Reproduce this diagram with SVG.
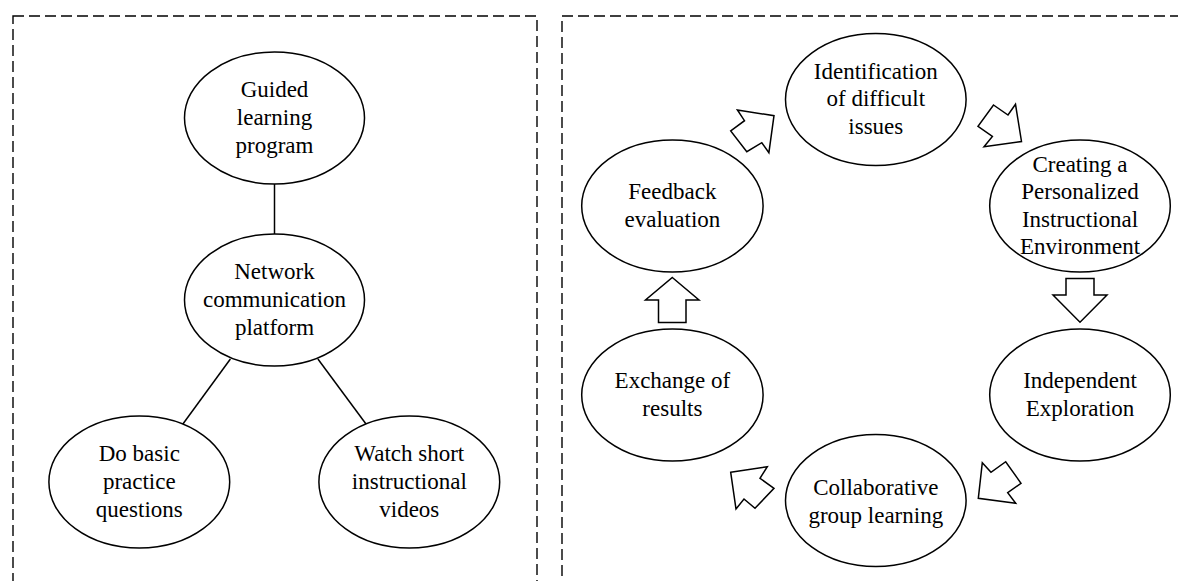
<svg xmlns="http://www.w3.org/2000/svg" width="1178" height="581" viewBox="0 0 1178 581">
  <style>
    .frame { fill: none; stroke: #000; stroke-width: 1.4; stroke-dasharray: 11 5; }
    .node ellipse { fill: #fff; stroke: #000; stroke-width: 1.5; }
    .node text { font-family: "Liberation Serif", "Times New Roman", serif; font-size: 23px; fill: #000; text-anchor: middle; }
    .link { stroke: #000; stroke-width: 1.5; fill: none; }
    .flow { fill: #fff; stroke: #000; stroke-width: 1.5; stroke-linejoin: miter; }
  </style>

  <rect width="1178" height="581" fill="#fff"/>

  <!-- dashed frames for the two panels -->
  <rect class="frame" x="13" y="16" width="524" height="600"/>
  <rect class="frame" x="562" y="16" width="640" height="600"/>

  <!-- left panel: tree connectors -->
  <g id="tree-links">
    <line class="link" x1="274.5" y1="184" x2="274.5" y2="234"/>
    <line class="link" x1="230.4" y1="359" x2="182.9" y2="424"/>
    <line class="link" x1="317.9" y1="359" x2="366" y2="424"/>
  </g>

  <!-- right panel: cycle arrows -->
  <g id="cycle-arrows">
    <polygon class="flow" points="737.4,110 774,115.7 768.9,152.7 761.8,142.7 746.8,151.7 730.7,131 744.5,120.7"/>
    <polygon class="flow" points="993.5,105 1008,115 1015.5,104.3 1021.5,141.5 984,146.7 992.4,136.4 978,126.3"/>
    <polygon class="flow" points="1066,278.5 1094,278.5 1094,295 1107,295 1080,322.3 1053,295 1066,295"/>
    <polygon class="flow" points="982.3,462.7 991,472.3 1005.7,461.7 1021,483.3 1007.7,492.7 1015.7,503.3 978.3,498.3"/>
    <polygon class="flow" points="730.7,472.3 767.3,466.7 760,478.3 774,488.3 755,508.3 744,499 736,509"/>
    <polygon class="flow" points="672.3,277.5 699,300 686,300 686,322.5 658.5,322.5 658.5,300 645.5,300"/>
  </g>

  <!-- left panel nodes -->
  <g id="guided" class="node">
    <ellipse cx="274.5" cy="118" rx="90" ry="66"/>
    <text x="274.5" y="97.3">Guided</text>
    <text x="274.5" y="125">learning</text>
    <text x="274.5" y="152.6">program</text>
  </g>
  <g id="network" class="node">
    <ellipse cx="274.5" cy="300" rx="90" ry="66"/>
    <text x="274.5" y="279.3">Network</text>
    <text x="274.5" y="307">communication</text>
    <text x="274.5" y="334.6">platform</text>
  </g>
  <g id="practice" class="node">
    <ellipse cx="139.3" cy="482" rx="90.4" ry="66"/>
    <text x="139.3" y="461.3">Do basic</text>
    <text x="139.3" y="489">practice</text>
    <text x="139.3" y="516.6">questions</text>
  </g>
  <g id="videos" class="node">
    <ellipse cx="409.3" cy="482" rx="90.4" ry="66"/>
    <text x="409.3" y="461.3">Watch short</text>
    <text x="409.3" y="489">instructional</text>
    <text x="409.3" y="516.6">videos</text>
  </g>

  <!-- right panel nodes -->
  <g id="identification" class="node">
    <ellipse cx="875.8" cy="99.5" rx="90.3" ry="66"/>
    <text x="875.8" y="78.6">Identification</text>
    <text x="875.8" y="106.2">of difficult</text>
    <text x="875.8" y="133.8">issues</text>
  </g>
  <g id="feedback" class="node">
    <ellipse cx="672.4" cy="206" rx="90.7" ry="66"/>
    <text x="672.4" y="199.2">Feedback</text>
    <text x="672.4" y="226.8">evaluation</text>
  </g>
  <g id="creating" class="node">
    <ellipse cx="1080" cy="206" rx="90.3" ry="66"/>
    <text x="1080" y="171.6">Creating a</text>
    <text x="1080" y="199.2">Personalized</text>
    <text x="1080" y="226.8">Instructional</text>
    <text x="1080" y="254.4">Environment</text>
  </g>
  <g id="exchange" class="node">
    <ellipse cx="672.4" cy="395" rx="90.7" ry="66"/>
    <text x="672.4" y="388">Exchange of</text>
    <text x="672.4" y="415.6">results</text>
  </g>
  <g id="exploration" class="node">
    <ellipse cx="1080" cy="395" rx="90.3" ry="66"/>
    <text x="1080" y="388">Independent</text>
    <text x="1080" y="415.6">Exploration</text>
  </g>
  <g id="collaborative" class="node">
    <ellipse cx="875.8" cy="500.5" rx="90.3" ry="66"/>
    <text x="875.8" y="495">Collaborative</text>
    <text x="875.8" y="522.6">group learning</text>
  </g>
</svg>
